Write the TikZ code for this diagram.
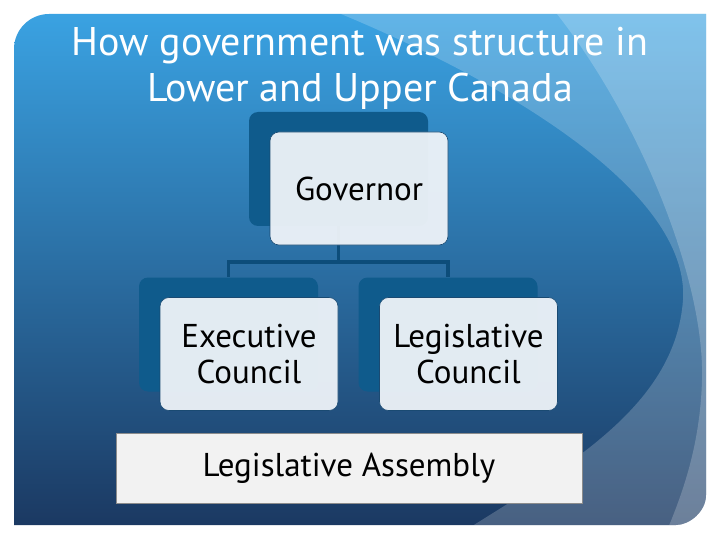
\documentclass[tikz,border=0pt]{standalone}
\usepackage{fontspec}
\setmainfont{PT Sans}
\usetikzlibrary{positioning}
\definecolor{panelTop}{HTML}{3AA2E2}
\definecolor{panelMid}{HTML}{2A7CBC}
\definecolor{panelBot}{HTML}{1B3962}
\definecolor{boxDark}{HTML}{0F5B8C}
\definecolor{boxLight}{HTML}{EEF3F8}
\definecolor{boxEdge}{HTML}{1A4A72}
\definecolor{linkBlue}{HTML}{0D4D7A}

\begin{document}
\begin{tikzpicture}[x=1pt,y=-1pt,
		backbox/.style={fill=boxDark,rounded corners=9pt,minimum width=179pt,minimum height=114pt,inner sep=0pt},
		frontbox/.style={fill=boxLight,fill opacity=.95,text opacity=1,draw=boxEdge,line width=.6pt,rounded corners=9pt,
			minimum width=178pt,minimum height=113pt,inner sep=0pt,align=center,font=\fontsize{33}{36}\selectfont},
		link/.style={draw=linkBlue,line width=3.5pt},
		swoosh/.style={fill=white,fill opacity=.2}]
	\useasboundingbox (0,0) rectangle (720,540);
	% panel
	\shade[top color=panelTop,middle color=panelMid,bottom color=panelBot]
		(14,525) -- (14,49) .. controls (14,29.7) and (29.7,14) .. (49,14) -- (706,14) -- (706,495)
		.. controls (706,511.6) and (689.4,525) .. (676,525) -- cycle;
	\begin{scope}
		\clip (14,525) -- (14,49) .. controls (14,29.7) and (29.7,14) .. (49,14) -- (706,14) -- (706,495)
			.. controls (706,511.6) and (689.4,525) .. (676,525) -- cycle;
		\fill[swoosh] (330,0) -- (341,14) .. controls (500,80) and (690,190) .. (683,300)
			.. controls (675,410) and (560,470) .. (450,540) -- (720,540) -- (720,0) -- cycle;
		\fill[swoosh] (545,0) -- (557,14) .. controls (640,120) and (705,280) .. (702,380)
			.. controls (700,450) and (680,500) .. (663,540) -- (720,540) -- (720,0) -- cycle;
	\end{scope}
	\node[align=center,text=white,font=\fontsize{40}{46}\selectfont] (title) at (360,68)
		{How government was structure in\\Lower and Upper Canada};
	% chart
	\node[backbox] (govback) at (338.5,169) {};
	\node[backbox] (execback) at (228.5,334.5) {};
	\node[backbox] (legback) at (448,334.5) {};
	\coordinate (fork) at (338.5,262);
	\draw[link] (govback.south) -- (fork) -| (execback.north);
	\draw[link] (fork) -| (legback.north);
	\node[frontbox,xshift=20.5pt,yshift=-19.5pt] (gov) at (govback) {Governor};
	\node[frontbox,xshift=20.5pt,yshift=-19.5pt] (exec) at (execback) {Executive\\Council};
	\node[frontbox,xshift=20.5pt,yshift=-19.5pt] (leg) at (legback) {Legislative\\Council};
	\node[fill=black!5,draw=black!45,line width=.5pt,minimum width=466pt,minimum height=70pt,inner sep=0pt,
		font=\fontsize{33}{36}\selectfont] (assembly) at (349,468) {Legislative Assembly};
\end{tikzpicture}
\end{document}
